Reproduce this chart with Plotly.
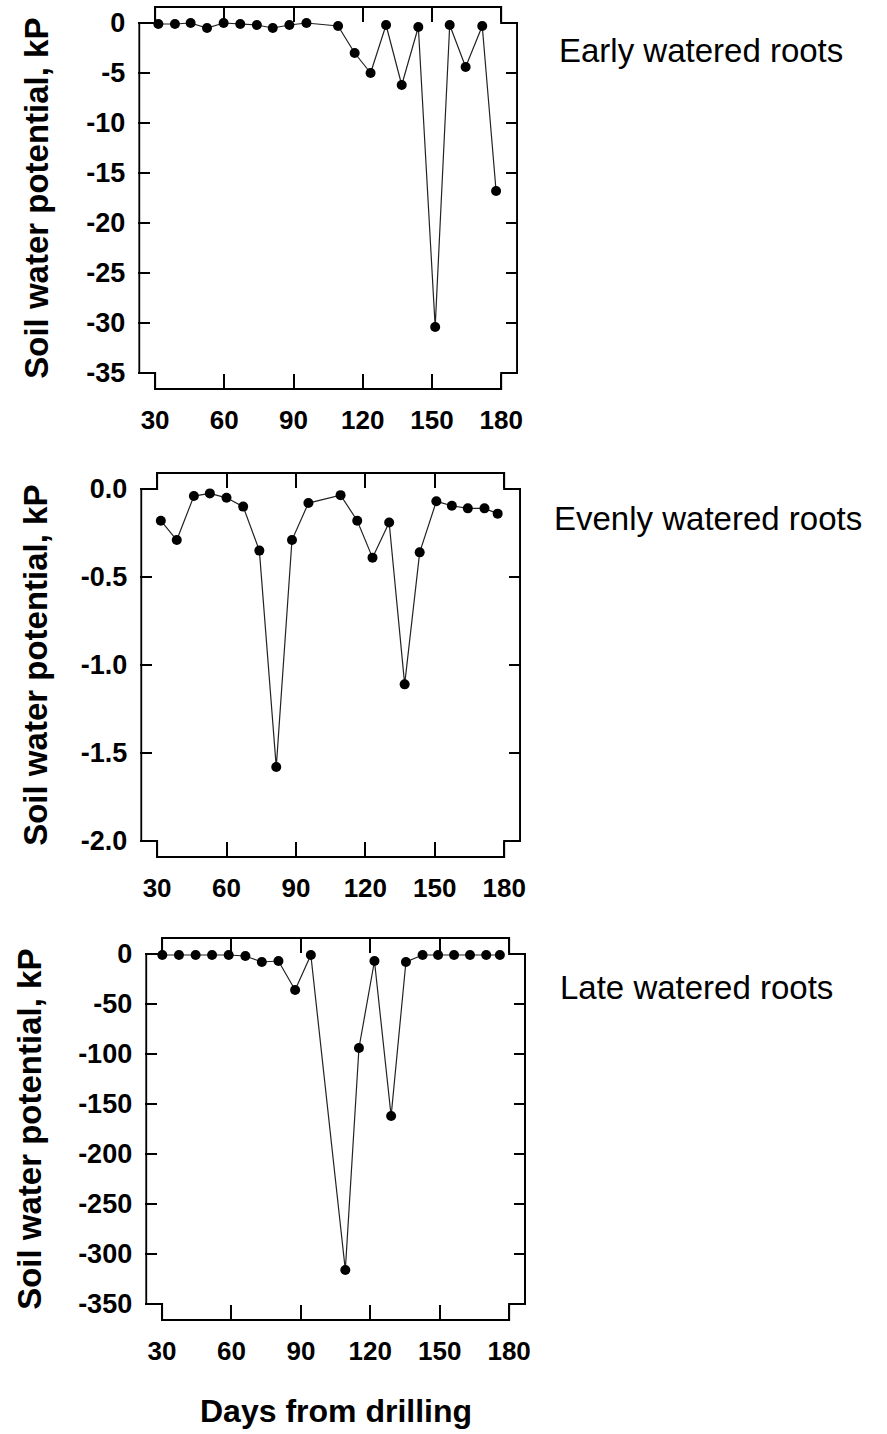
import plotly.graph_objects as go

# ---------------- data ----------------
x_tick_vals = [30, 60, 90, 120, 150, 180]
x_tick_text = ["30", "60", "90", "120", "150", "180"]

days_early = [31.4, 38.6, 45.4, 52.5, 59.7, 66.9, 74.1, 81.0, 88.2, 95.6,
              109.3, 116.5, 123.4, 130.1, 136.9, 144.1, 151.4, 157.7, 164.6, 171.8, 177.8]
swp_early = [-0.1, -0.1, 0.0, -0.5, 0.0, -0.1, -0.2, -0.5, -0.2, 0.0,
             -0.3, -3.0, -5.0, -0.2, -6.2, -0.4, -30.4, -0.2, -4.4, -0.3, -16.8]
early_ytick_vals = [0, -5, -10, -15, -20, -25, -30, -35]
early_ytick_text = ["0", "-5", "-10", "-15", "-20", "-25", "-30", "-35"]

days_even = [31.6, 38.5, 45.9, 52.8, 60.0, 67.2, 74.2, 81.5, 88.3, 95.4,
             109.3, 116.5, 123.1, 130.3, 137.0, 143.5, 150.7, 157.4, 164.3, 171.5, 177.2]
swp_even = [-0.18, -0.29, -0.04, -0.025, -0.05, -0.10, -0.35, -1.58, -0.29, -0.08,
            -0.035, -0.18, -0.39, -0.19, -1.11, -0.36, -0.07, -0.095, -0.11, -0.11, -0.14]
even_ytick_vals = [0.0, -0.5, -1.0, -1.5, -2.0]
even_ytick_text = ["0.0", "-0.5", "-1.0", "-1.5", "-2.0"]

days_late = [30.1, 37.3, 44.5, 51.6, 58.8, 66.0, 73.1, 80.3, 87.5, 94.3,
             109.2, 115.1, 121.8, 129.0, 135.4, 142.6, 149.3, 156.2, 163.1, 170.1, 176.0]
swp_late = [-1, -1, -1, -1, -1, -2, -8, -7, -36, -1,
            -316, -94, -7, -162, -8, -1, -1, -1, -1, -1, -1]
late_ytick_vals = [0, -50, -100, -150, -200, -250, -300, -350]
late_ytick_text = ["0", "-50", "-100", "-150", "-200", "-250", "-300", "-350"]

panel_labels = ["Early watered roots", "Evenly watered roots", "Late watered roots"]
y_title = "Soil water potential, kP"
x_title = "Days from drilling"

# ---------------- layout (pixels) ----------------
W, H = 887, 1434
FONT = "Liberation Sans"
INSET = 16  # notch size of the frame, px

panels = [
    dict(x=days_early, y=swp_early, yv=early_ytick_vals, yt=early_ytick_text,
         box=(140, 7, 520, 389), title_x=37, label_pos=(560, 50)),
    dict(x=days_even, y=swp_even, yv=even_ytick_vals, yt=even_ytick_text,
         box=(142, 473, 523, 857), title_x=35, label_pos=(555, 518)),
    dict(x=days_late, y=swp_late, yv=late_ytick_vals, yt=late_ytick_text,
         box=(147, 938, 528, 1320), title_x=29, label_pos=(561, 987)),
]

fig = go.Figure()
shapes = []
annotations = []
xmin_d, xmax_d = x_tick_vals[0], x_tick_vals[-1]

for i, p in enumerate(panels, start=1):
    left, top, right, bottom = p["box"]
    ymax_d, ymin_d = max(p["yv"]), min(p["yv"])
    sx = (xmax_d - xmin_d) / ((right - INSET) - (left + INSET))
    sy = (ymax_d - ymin_d) / ((bottom - INSET) - (top + INSET))
    xr = [xmin_d - (INSET + 1) * sx, xmax_d + (INSET + 1) * sx]
    yr = [ymin_d - (INSET + 1) * sy, ymax_d + (INSET + 1) * sy]
    xdom = [(left - 1) / W, (right + 1) / W]
    ydom = [1 - (bottom + 1) / H, 1 - (top - 1) / H]
    sfx = "" if i == 1 else str(i)

    fig.add_trace(go.Scatter(
        x=p["x"], y=p["y"], mode="lines+markers",
        line=dict(color="#222222", width=1.2),
        marker=dict(color="black", size=10),
        xaxis="x" + sfx, yaxis="y" + sfx, showlegend=False, cliponaxis=False))

    fig.layout["xaxis" + sfx] = dict(
        domain=xdom, range=xr, anchor="y" + sfx,
        tickvals=x_tick_vals, ticktext=x_tick_text,
        ticks="inside", ticklen=INSET, tickwidth=2, tickcolor="black",
        mirror="ticks", showline=False, showgrid=False, zeroline=False,
        tickfont=dict(family=FONT, size=26, color="black", weight="bold"),
        ticklabelstandoff=12, fixedrange=True)
    fig.layout["yaxis" + sfx] = dict(
        domain=ydom, range=yr, anchor="x" + sfx,
        tickvals=p["yv"], ticktext=p["yt"],
        ticks="inside", ticklen=12, tickwidth=2, tickcolor="black",
        mirror="ticks", showline=False, showgrid=False, zeroline=False,
        tickfont=dict(family=FONT, size=27, color="black", weight="bold"),
        ticklabelstandoff=12, fixedrange=True)

    # notched frame
    xl = xmin_d - INSET * sx
    xh = xmax_d + INSET * sx
    yt_ = ymax_d + INSET * sy
    yb_ = ymin_d - INSET * sy
    path = (f"M {xl},{ymax_d} L {xmin_d},{ymax_d} L {xmin_d},{yt_} L {xmax_d},{yt_} "
            f"L {xmax_d},{ymax_d} L {xh},{ymax_d} L {xh},{ymin_d} L {xmax_d},{ymin_d} "
            f"L {xmax_d},{yb_} L {xmin_d},{yb_} L {xmin_d},{ymin_d} L {xl},{ymin_d} Z")
    shapes.append(dict(type="path", path=path, xref="x" + sfx, yref="y" + sfx,
                       line=dict(color="black", width=2), layer="above"))

    annotations.append(dict(
        text=y_title, textangle=-90, xref="paper", yref="paper",
        x=p["title_x"] / W, y=1 - ((top + bottom) / 2) / H,
        xanchor="center", yanchor="middle", showarrow=False,
        font=dict(family=FONT, size=33, color="black", weight="bold")))
    lx, ly = p["label_pos"]
    annotations.append(dict(
        text=panel_labels[i - 1], xref="paper", yref="paper",
        x=lx / W, y=1 - ly / H, xanchor="left", yanchor="middle",
        showarrow=False, font=dict(family=FONT, size=33, color="black")))

annotations.append(dict(
    text=x_title, xref="paper", yref="paper", x=338 / W, y=1 - 1411 / H,
    xanchor="center", yanchor="middle", showarrow=False,
    font=dict(family=FONT, size=32, color="black", weight="bold")))

fig.update_layout(
    width=W, height=H, margin=dict(l=0, r=0, t=0, b=0),
    paper_bgcolor="white", plot_bgcolor="white",
    shapes=shapes, annotations=annotations)

fig.write_html("out.html")
